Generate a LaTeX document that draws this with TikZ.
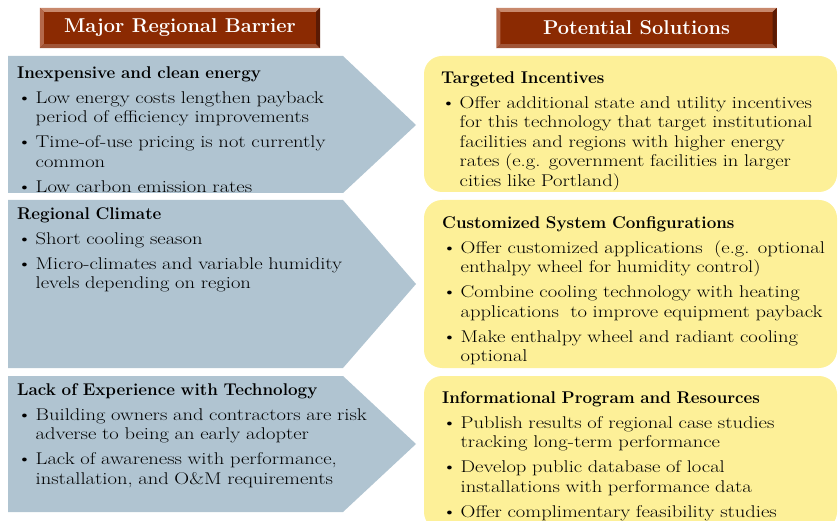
\documentclass[tikz,border=0pt]{standalone}
\usepackage{fontspec}
\usepackage{tikz}
\usetikzlibrary{calc}

\newfontfamily\bodyfont{Latin Modern Roman}[FakeStretch=1.21]

\definecolor{hdred}{RGB}{139,42,2}
\definecolor{hdtop}{RGB}{200,136,108}
\definecolor{hdleft}{RGB}{180,104,74}
\definecolor{hdbot}{RGB}{160,84,54}
\definecolor{hdright}{RGB}{90,26,4}
\definecolor{barblue}{RGB}{176,196,209}
\definecolor{solyellow}{RGB}{253,240,152}

\newcommand{\hd}[1]{\noindent\rule{0pt}{13pt}{\normalfont\bfseries #1}\par}
\newcommand{\itm}[1]{\hangindent=18.5pt\hangafter=1\noindent\makebox[18.5pt][l]{\hspace{0pt}\textbullet}#1\par}

\tikzset{
  headbox/.style={fill=hdred, text=white, inner sep=0pt,
    minimum width=280pt, minimum height=40pt,
    font=\fontsize{20}{24}\selectfont\bfseries},
  blocktext/.style={anchor=north west, inner sep=0pt, text width=#1, align=left,
    font=\fontsize{17}{19.5}\selectfont\bodyfont,
    execute at begin node={\setlength{\parskip}{5.5pt}}},
}

\begin{document}
\begin{tikzpicture}[x=1pt, y=-1pt]
\useasboundingbox (0,0) rectangle (838,521);
\clip (0,0) rectangle (838,521);
% barrier arrows
\fill[barblue] (8,56)  -- (343,56)  -- (416,125) -- (343,193) -- (8,193) -- cycle;
\fill[barblue] (8,200) -- (343,200) -- (416,284) -- (343,368) -- (8,368) -- cycle;
\fill[barblue] (8,376) -- (343,376) -- (416,444) -- (343,512) -- (8,512) -- cycle;
% solution boxes
\fill[solyellow, rounded corners=18pt] (424,56)  rectangle (837,192);
\fill[solyellow, rounded corners=18pt] (424,200) rectangle (837,368);
\fill[solyellow, rounded corners=18pt] (424,376) rectangle (837,530);
% column headers
\node[headbox] (hdbar) at (180,28)   {Major Regional Barrier};
\node[headbox] (hdsol) at (636.5,28) {Potential Solutions};
\foreach \h in {hdbar,hdsol} {
  \fill[hdtop]   (\h.north west) -- (\h.north east) -- ($(\h.north east)+(-4,4)$) -- ($(\h.north west)+(4,4)$) -- cycle;
  \fill[hdleft]  (\h.north west) -- ($(\h.north west)+(4,4)$) -- ($(\h.south west)+(4,-4)$) -- (\h.south west) -- cycle;
  \fill[hdbot]   (\h.south west) -- (\h.south east) -- ($(\h.south east)+(-4,-4)$) -- ($(\h.south west)+(4,-4)$) -- cycle;
  \fill[hdright] (\h.north east) -- (\h.south east) -- ($(\h.south east)+(-4,-4)$) -- ($(\h.north east)+(-4,4)$) -- cycle;
}
% barrier texts
\node[blocktext=395pt] (txtbar1) at (17,65) {%
  \hd{Inexpensive and clean energy}
  \itm{Low energy costs lengthen payback\newline period of efficiency improvements}
  \itm{Time-of-use pricing is not currently\newline common}
  \itm{Low carbon emission rates}};
\node[blocktext=395pt] (txtbar2) at (17,206) {%
  \hd{Regional Climate}
  \itm{Short cooling season}
  \itm{Micro-climates and variable humidity\newline levels depending on region}};
\node[blocktext=395pt] (txtbar3) at (17,382) {%
  \hd{Lack of Experience with Technology}
  \itm{Building owners and contractors are risk\newline adverse to being an early adopter}
  \itm{Lack of awareness with performance,\newline installation, and O\&M requirements}};
% solution texts
\node[blocktext=395pt] (txtsol1) at (441,70) {%
  \hd{Targeted Incentives}
  \itm{Offer additional state and utility incentives\newline for this technology that target institutional\newline facilities and regions with higher energy\newline rates (e.g. government facilities in larger\newline cities like Portland)}};
\node[blocktext=395pt] (txtsol2) at (442,215) {%
  \hd{Customized System Configurations}
  \itm{Offer customized applications~ (e.g. optional\newline enthalpy wheel for humidity control)}
  \itm{Combine cooling technology with heating\newline applications~ to improve equipment payback}
  \itm{Make enthalpy wheel and radiant cooling\newline optional}};
\node[blocktext=395pt] (txtsol3) at (442,390) {%
  \hd{Informational Program and Resources}
  \itm{Publish results of regional case studies\newline tracking long-term performance}
  \itm{Develop public database of local\newline installations with performance data}
  \itm{Offer complimentary feasibility studies}};
\end{tikzpicture}
\end{document}
